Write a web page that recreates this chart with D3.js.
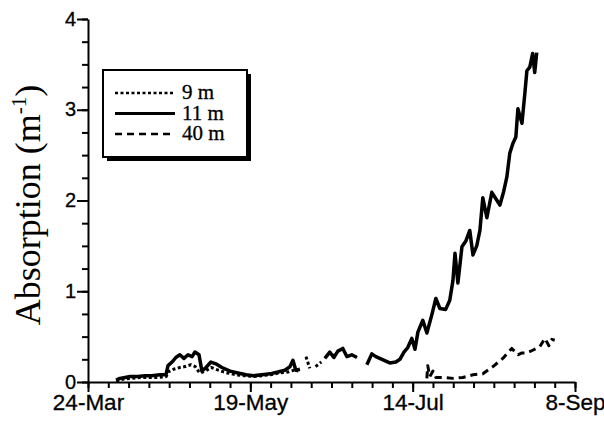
<!DOCTYPE html>
<html>
<head>
<meta charset="utf-8">
<script src="https://cdn.jsdelivr.net/npm/d3@7"></script>
<style>
  body { margin: 0; background: #fff; }
  svg { display: block; }
</style>
</head>
<body>
<div id="chart"></div>
<script>
// day offsets from 24-Mar, absorption values (m^-1); null = gap in record
const seriesNames = ["9 m", "11 m", "40 m"];

const days9 = [9.7, 12, 15, 18, 21, 24, 27, 27.6, 29.5, 31.7, 33.5, 35.5, 37, 38.5, 40.5, 42.5, 45, 48, 51, 54, 57, 60, 63, 66, 69, 71, 72.5, 74,
  75.2, 76.5, 77.5, 78.5, 80.5, 81.5, 84.3, 85];
const vals9 = [0.01, 0.03, 0.04, 0.05, 0.05, 0.05, 0.06, 0.11, 0.14, 0.16, 0.17, 0.19, 0.17, 0.10, 0.12, 0.16, 0.13, 0.10, 0.08, 0.07, 0.06, 0.07, 0.08, 0.10, 0.11, 0.13, 0.12, null,
  0.28, 0.15, null, 0.17, 0.22, null, 0.30, 0.29];

const days11 = [9.7, 11, 12.8, 14.5, 17.2, 19.7, 22, 24.8, 26.9, 27.6, 29, 30.3, 31.7, 33.1, 34.5, 35.9, 36.9, 38.3, 39.3, 40.7, 42.4, 44.1, 46.2, 49,
  51.7, 54.5, 57.2, 60, 62.8, 65.5, 67.9, 69.7, 70.7, 71.7, 73.1, 74,
  81.7, 83.4, 84.8, 86.2, 87.9, 89.3, 91, 92.8, 94,
  96.2, 97.9, 99.3, 101.4, 104.1, 106.2, 107.6, 109, 110.3, 111.7, 112.8, 113.8, 115.5, 116.9, 118.6, 120, 121.4, 123.4, 124.8,
  125.9, 126.6, 127.6, 129, 130.3, 131.7, 132.8, 134.1, 135.2, 136.2, 137.6, 139.3, 140.7, 142.1, 143.4, 144.5, 145.5, 146.6,
  147.6, 148.3, 149.7, 150.7, 151.4, 152.4, 153.4, 154.1, 154.8];
const vals11 = [0.02, 0.04, 0.05, 0.06, 0.06, 0.07, 0.07, 0.08, 0.08, 0.18, 0.22, 0.27, 0.30, 0.26, 0.30, 0.28, 0.33, 0.30, 0.12, 0.16, 0.22, 0.20, 0.16, 0.12,
  0.10, 0.08, 0.07, 0.08, 0.09, 0.11, 0.13, 0.17, 0.24, 0.13, 0.14, null,
  0.26, 0.33, 0.27, 0.34, 0.37, 0.28, 0.30, 0.27, null,
  0.19, 0.31, 0.28, 0.25, 0.21, 0.22, 0.25, 0.33, 0.38, 0.48, 0.36, 0.55, 0.68, 0.54, 0.74, 0.92, 0.81, 0.80, 0.90,
  1.12, 1.42, 1.09, 1.49, 1.55, 1.67, 1.40, 1.50, 1.67, 2.03, 1.81, 2.09, 2.02, 1.95, 2.10, 2.26, 2.52, 2.63,
  2.70, 3.01, 2.85, 3.18, 3.43, 3.47, 3.62, 3.41, 3.63];

const days40 = [116.9, 117.2, 117.9, 119, 120, 122.4, 125.9, 129.3, 132.8, 136.2, 139.7, 143.1, 146.2, 148.3, 149.7, 151.4, 153.4, 155.9, 157.6, 159, 160, 161];
const vals40 = [0.04, 0.18, 0.06, 0.12, 0.05, 0.05, 0.04, 0.05, 0.08, 0.09, 0.17, 0.26, 0.37, 0.30, 0.32, 0.32, 0.35, 0.39, 0.48, 0.40, 0.47, 0.46];

const yTicks = [0, 1, 2, 3, 4];
const xTickLabels = ["24-Mar", "19-May", "14-Jul", "8-Sep"];

const width = 604, height = 422;
const marginLeft = 88, marginRight = 29, marginTop = 19, marginBottom = 40;

const start = new Date(Date.UTC(2001, 2, 24));
const toDate = d => new Date(start.getTime() + d * 864e5);

const x = d3.scaleUtc()
    .domain([start, d3.utcDay.offset(start, 168)])
    .range([marginLeft, width - marginRight]);
const y = d3.scaleLinear()
    .domain([0, 4])
    .range([height - marginBottom, marginTop]);

const svg = d3.select("#chart").append("svg")
    .attr("width", width)
    .attr("height", height)
    .attr("viewBox", [0, 0, width, height])
    .attr("font-family", "'Liberation Serif', 'Times New Roman', serif");

// minor ticks, one per week
const xMinor = d3.range(0, 169, 7).map(d => d3.utcDay.offset(start, d));
svg.append("g")
    .attr("transform", `translate(0,${y(0)})`)
    .call(d3.axisBottom(x).tickValues(xMinor).tickSize(6).tickFormat(""))
    .call(g => g.selectAll("line, path").attr("stroke-width", 2))
    .call(g => g.select(".domain").remove());

const xMajor = d3.range(0, 169, 56).map(d => d3.utcDay.offset(start, d));
svg.append("g")
    .attr("transform", `translate(0,${y(0)})`)
    .call(d3.axisBottom(x).tickValues(xMajor).tickSize(10).tickSizeOuter(0)
        .tickFormat((d, i) => xTickLabels[i]))
    .call(g => g.selectAll("line, path").attr("stroke-width", 2))
    .call(g => g.selectAll("text")
        .attr("font-size", 22.5)
        .attr("y", 12)
        .attr("fill", "#000")
        .attr("stroke", "#000")
        .attr("stroke-width", 0.3));

const yMinor = d3.range(0, 4.01, 0.25);
svg.append("g")
    .attr("transform", `translate(${marginLeft},0)`)
    .call(d3.axisLeft(y).tickValues(yMinor).tickSize(6).tickFormat(""))
    .call(g => g.selectAll("line").attr("stroke-width", 2))
    .call(g => g.select(".domain").remove());

svg.append("g")
    .attr("transform", `translate(${marginLeft},0)`)
    .call(d3.axisLeft(y).tickValues(yTicks).tickSize(11).tickSizeOuter(0).tickFormat(d3.format("d")))
    .call(g => g.selectAll("line, path").attr("stroke-width", 2))
    .call(g => g.selectAll("text")
        .attr("font-size", 20)
        .attr("x", -12)
        .attr("dy", "0.3em")
        .attr("fill", "#000")
        .attr("stroke", "#000")
        .attr("stroke-width", 0.3));

// y label
const yl = svg.append("text")
    .attr("transform", `translate(40,${(82 + 328) / 2}) rotate(-90)`)
    .attr("text-anchor", "middle")
    .attr("font-size", 36)
    .attr("fill", "#000");
yl.append("tspan").text("Absorption (m");
yl.append("tspan").attr("font-size", 21).attr("dy", -14).text("-1");
yl.append("tspan").attr("dy", 14).text(")");

// data lines
const line = d3.line()
    .defined(d => d[1] != null)
    .x(d => x(toDate(d[0])))
    .y(d => y(d[1]));

const series = [
  {name: seriesNames[0], data: d3.zip(days9, vals9), width: 3, dash: "3,2.5"},
  {name: seriesNames[1], data: d3.zip(days11, vals11), width: 3.5, dash: null},
  {name: seriesNames[2], data: d3.zip(days40, vals40), width: 3, dash: "7,5"}
];

svg.append("g")
  .selectAll("path")
  .data(series)
  .join("path")
    .attr("fill", "none")
    .attr("stroke", "#000")
    .attr("stroke-width", d => d.width)
    .attr("stroke-dasharray", d => d.dash)
    .attr("stroke-linejoin", "round")
    .attr("d", d => line(d.data));

// legend with drop shadow
const legend = svg.append("g").attr("transform", "translate(103,70)");
legend.append("rect")
    .attr("x", 4).attr("y", 4)
    .attr("width", 144).attr("height", 87)
    .attr("fill", "#000");
legend.append("rect")
    .attr("width", 144).attr("height", 87)
    .attr("fill", "#fff")
    .attr("stroke", "#000")
    .attr("stroke-width", 2);

const row = legend.selectAll("g.row")
  .data(series)
  .join("g")
    .attr("class", "row")
    .attr("transform", (d, i) => `translate(0,${23 + i * 20.5})`);
row.append("line")
    .attr("x1", 12).attr("x2", 72)
    .attr("stroke", "#000")
    .attr("stroke-width", d => d.width - 0.5)
    .attr("stroke-dasharray", d => d.dash);
row.append("text")
    .attr("x", 79)
    .attr("dy", "0.3em")
    .attr("font-size", 21)
    .attr("fill", "#000")
    .attr("stroke", "#000")
    .attr("stroke-width", 0.3)
    .text(d => d.name);
</script>
</body>
</html>
